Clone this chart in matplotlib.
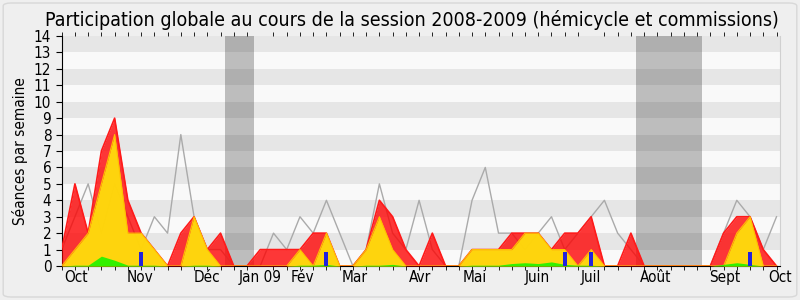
import matplotlib
matplotlib.use("Agg")
import matplotlib.pyplot as plt
from matplotlib.patches import FancyBboxPatch
from matplotlib import font_manager
import numpy as np

# semaines d'octobre 2008 à octobre 2009
weeks = np.arange(55)

total = [1, 5, 2, 7, 9, 4, 2, 1, 0, 2, 3, 1, 2, 0, 0, 1, 1, 1, 1, 2,
         2, 0, 0, 1, 4, 3, 1, 0, 2, 0, 0, 1, 1, 1, 2, 2, 2, 1, 2, 2,
         3, 0, 0, 2, 0, 0, 0, 0, 0, 0, 2, 3, 3, 1, 0]
hemicycle = [0, 1, 2, 5, 8, 2, 2, 1, 0, 0, 3, 1, 0, 0, 0, 0, 0, 0, 1, 0,
             2, 0, 0, 1, 3, 1, 0, 0, 0, 0, 0, 1, 1, 1, 1, 2, 2, 1, 1, 0,
             1, 0, 0, 0, 0, 0, 0, 0, 0, 0, 0, 2, 3, 0, 0]
interventions = [0, 0.05, 0.05, 0.6, 0.35, 0.05, 0.05, 0.05, 0, 0, 0.05, 0.05, 0, 0, 0, 0, 0, 0, 0.05, 0.05,
                 0.1, 0, 0, 0.05, 0.05, 0.1, 0, 0, 0, 0, 0, 0.05, 0.05, 0.05, 0.15, 0.2, 0.15, 0.25, 0.1, 0.05,
                 0.05, 0, 0, 0, 0, 0, 0, 0, 0, 0, 0.1, 0.2, 0.1, 0, 0]
mediane = [1, 3, 5, 2, 5, 3, 1, 3, 2, 8, 3, 1, 1, 0, 0, 0, 2, 1, 3, 2,
           4, 2, 0, 1, 5, 2, 1, 4, 1, 0, 0, 4, 6, 2, 2, 1, 2, 3, 1, 2,
           3, 4, 2, 1, 0, 0, 0, 0, 0, 0, 2, 4, 3, 1, 3]
questions_weeks = [6, 20, 38, 40, 52]
questions_vals = [0.85, 0.85, 0.85, 0.85, 0.85]

vacances = [(12.35, 14.5), (43.4, 48.4)]

month_labels = ["Oct", "Nov", "Déc", "Jan 09", "Fév", "Mar", "Avr", "Mai",
                "Juin", "Juil", "Août", "Sept", "Oct"]
month_pos = [1.07, 5.95, 10.98, 15.0, 18.18, 22.15, 27.1, 31.23,
             35.95, 40.0, 44.9, 50.07, 54.27]

font = {"family": "DejaVu Sans", "stretch": "condensed"}

fig = plt.figure(figsize=(8, 3), dpi=100, facecolor="#efefef")
fig.patches.append(FancyBboxPatch((0.004, 0.01), 0.992, 0.98, boxstyle="round,pad=0,rounding_size=0.01",
                                  transform=fig.transFigure, facecolor="#efefef",
                                  edgecolor="#d8d8d8", lw=1, zorder=-10))
ax = fig.add_axes([0.0771, 0.1133, 0.898, 0.7667])
ax.set_facecolor("#f9f9f9")

# bandes horizontales
for k in range(1, 14, 2):
    ax.axhspan(k, k + 1, color="#e6e6e6", lw=0, zorder=0)

for a, b in vacances:
    ax.axvspan(a, b, color="black", alpha=0.24, lw=0, zorder=1)

ax.plot(weeks, mediane, color="#aaaaaa", lw=1, zorder=2)
ax.fill_between(weeks, total, color="#ff0000", alpha=0.78, lw=0, zorder=3)
ax.plot(weeks, total, color="#ff1a1a", lw=1.2, zorder=3)
ax.fill_between(weeks, hemicycle, color="#ffe30a", alpha=0.92, lw=0, zorder=4)
ax.plot(weeks, hemicycle, color="#ffc000", lw=0.8, zorder=4)
ax.fill_between(weeks, interventions, color="#33f000", lw=0, zorder=5)
ax.bar(questions_weeks, questions_vals, width=0.3, color="#2222dd", zorder=6)

ax.set_xlim(0, 54)
ax.set_ylim(0, 14)
ax.set_yticks(range(15))
for lab in ax.get_yticklabels():
    lab.set_fontproperties(font_manager.FontProperties(size=11, **font))
ax.set_xticks(month_pos)
ax.set_xticklabels(month_labels, fontsize=11, **font)
ax.set_xticks(weeks, minor=True)
ax.tick_params(axis="x", which="major", length=0, pad=3)
ax.tick_params(axis="x", which="minor", length=3, top=True, bottom=True, direction="out")
ax.tick_params(axis="y", length=4)
ax.spines["top"].set_visible(False)
ax.spines["right"].set_color("#d0d0d0")

ax.set_ylabel("Séances par semaine", fontsize=11, labelpad=4, **font)
fig.text(0.515, 0.933, "Participation globale au cours de la session 2008-2009 (hémicycle et commissions)",
         fontsize=14, ha="center", va="center", **font)

fig.savefig("out.png", dpi=100, facecolor=fig.get_facecolor())
